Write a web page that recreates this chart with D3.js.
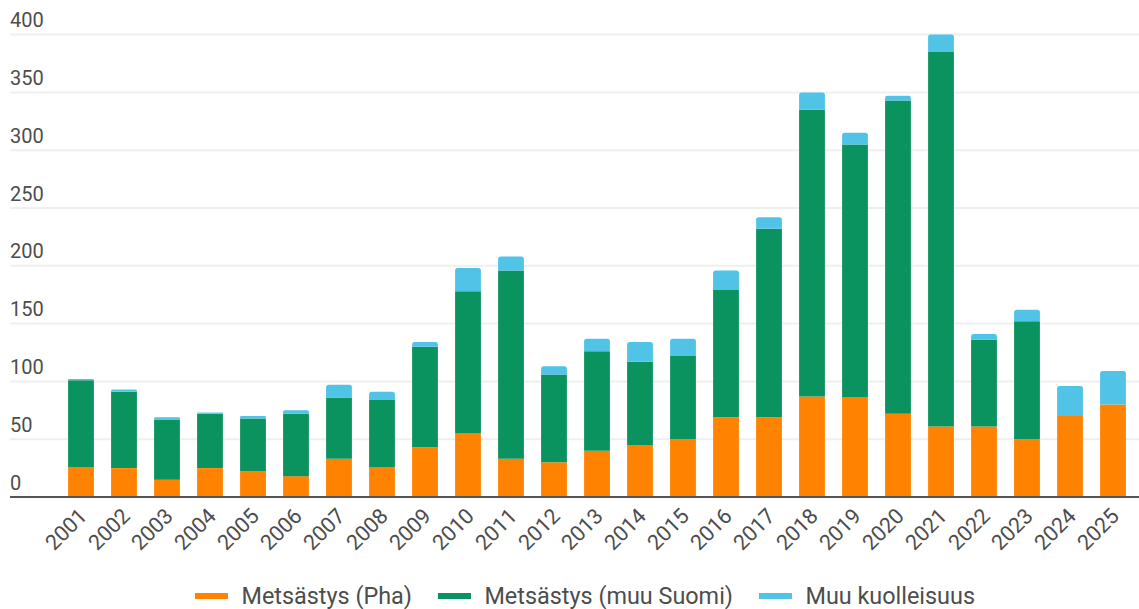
<!DOCTYPE html>
<html>
<head>
<meta charset="utf-8">
<script src="https://cdn.jsdelivr.net/npm/d3@7/dist/d3.min.js"></script>
<style>
  html, body { margin: 0; padding: 0; background: #fff; }
  svg { display: block; font-family: Roboto, "Noto Sans", sans-serif; }
</style>
</head>
<body>
<svg id="chart" width="1139" height="609"></svg>
<script>
const years = ["2001","2002","2003","2004","2005","2006","2007","2008","2009","2010","2011","2012","2013","2014","2015","2016","2017","2018","2019","2020","2021","2022","2023","2024","2025"];
const huntingPha = [26,25,15,25,22,18,33,26,43,55,33,30,40,45,50,69,69,87,86,72,61,61,50,70,80];
const huntingOther = [75,66,52,47,46,54,53,58,87,123,163,76,86,72,72,110,163,248,219,271,324,75,102,0,0];
const otherMortality = [1,2,2,1,2,3,11,7,4,20,12,7,11,17,15,17,10,15,10,4,15,5,10,26,29];
const yTicks = [0,50,100,150,200,250,300,350,400];
const seriesNames = ["Metsästys (Pha)", "Metsästys (muu Suomi)", "Muu kuolleisuus"];
const seriesColors = ["#ff8300", "#0a925f", "#50c3e7"];

const svg = d3.select("#chart");
const W = 1139;

const rows = years.map((y, i) => ({ year: y, a: huntingPha[i], b: huntingOther[i], c: otherMortality[i] }));
const stack = d3.stack().keys(["a", "b", "c"])(rows);

const x = d3.scaleBand().domain(years).range([59.5, 1134.5]).paddingInner(0.4).paddingOuter(0.2);
const y = d3.scaleLinear().domain([0, 400]).range([497, 34.6]);

// gridlines + y labels
const grid = svg.append("g");
grid.selectAll("line").data(yTicks.filter(d => d > 0)).join("line")
  .attr("x1", 10).attr("x2", W).attr("y1", d => y(d)).attr("y2", d => y(d))
  .attr("stroke", "#efefef").attr("stroke-width", 2);
grid.selectAll("text").data(yTicks).join("text")
  .attr("x", 10).attr("y", d => y(d) - 7.5)
  .attr("fill", "#4d4d4d").attr("font-size", 20)
  .text(d => d);

// bars
function barPath(x0, w, yTop, yBot, r) {
  r = Math.min(r, (yBot - yTop) / 2, w / 2);
  if (r <= 0) return `M${x0},${yBot}V${yTop}H${x0 + w}V${yBot}Z`;
  return `M${x0},${yBot}V${yTop + r}Q${x0},${yTop} ${x0 + r},${yTop}H${x0 + w - r}Q${x0 + w},${yTop} ${x0 + w},${yTop + r}V${yBot}Z`;
}
const bars = svg.append("g");
stack.forEach((layer, li) => {
  bars.append("g").selectAll("path").data(layer).join("path")
    .attr("fill", seriesColors[li])
    .attr("d", d => {
      if (d[1] - d[0] <= 0) return null;
      const isTop = layer.key === "c" || (li === 1 && d.data.c === 0);
      return barPath(x(d.data.year), x.bandwidth(), y(d[1]), y(d[0]), isTop ? 2.5 : 0);
    });
});

// baseline
svg.append("line").attr("x1", 10).attr("x2", W).attr("y1", y(0)).attr("y2", y(0))
  .attr("stroke", "#555").attr("stroke-width", 2);

// x labels
const xl = svg.append("g");
xl.selectAll("text").data(years).join("text")
  .attr("transform", d => `translate(${x(d) + x.bandwidth() / 2 + 2},${y(0) + 15}) rotate(-45)`)
  .attr("text-anchor", "end")
  .attr("dy", "0.35em")
  .attr("fill", "#4d4d4d").attr("font-size", 21.5)
  .text(d => d);

// legend
const leg = svg.append("g");
const items = seriesNames.map((n, i) => ({ name: n, color: seriesColors[i] }));
const legFont = 23.4;
const tmp = leg.append("text").attr("font-size", legFont);
const widths = items.map(it => { tmp.text(it.name); return tmp.node().getComputedTextLength(); });
tmp.remove();
const swW = 33, gap1 = 13.5, gap2 = 26;
const total = widths.reduce((s, w) => s + swW + gap1 + w, 0) + gap2 * (items.length - 1);
let cx = 585 - total / 2;
const ly = 596;
items.forEach((it, i) => {
  leg.append("rect").attr("x", cx).attr("y", ly - 3).attr("width", swW).attr("height", 6).attr("fill", it.color);
  leg.append("text").attr("x", cx + swW + gap1).attr("y", ly).attr("dy", "0.35em")
    .attr("font-size", legFont).attr("fill", "#4d4d4d").text(it.name);
  cx += swW + gap1 + widths[i] + gap2;
});
</script>
</body>
</html>
